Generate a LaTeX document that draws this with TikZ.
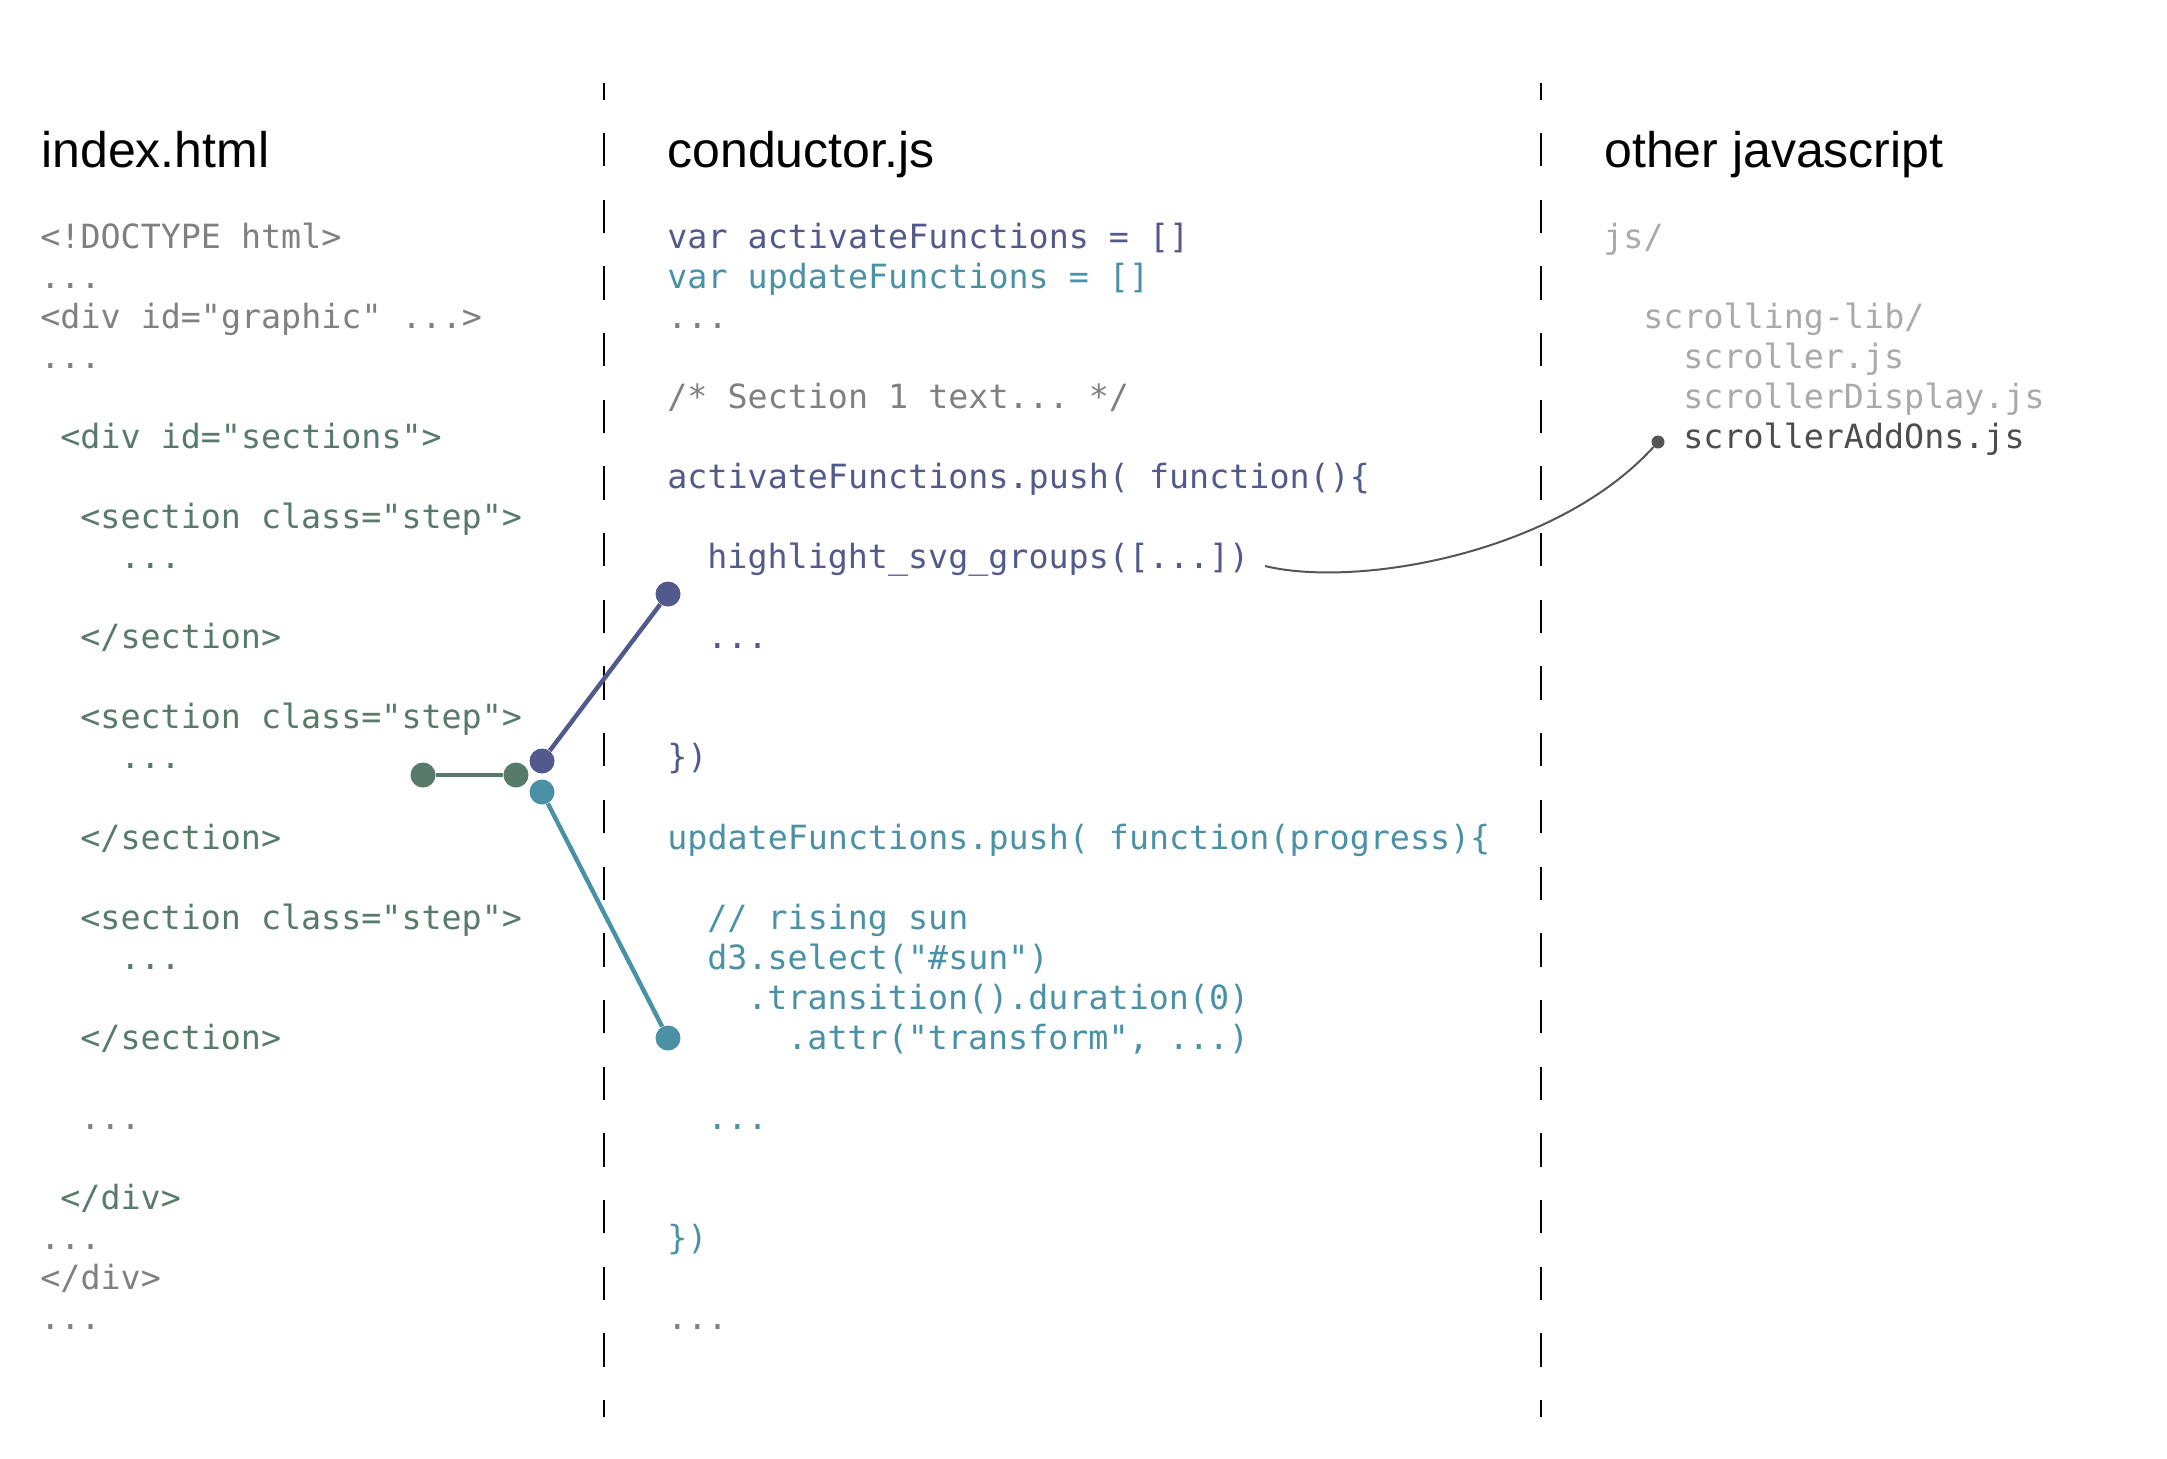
\documentclass[tikz,border=0pt]{standalone}
\usepackage{fontspec}
\setmainfont{Liberation Sans}
\setmonofont{DejaVu Sans Mono}

\definecolor{codegray}{HTML}{808080}
\definecolor{pathgray}{HTML}{AAAAAA}
\definecolor{filegray}{HTML}{4D4D4D}
\definecolor{curvegray}{HTML}{555555}
\definecolor{sectgreen}{HTML}{587A6A}
\definecolor{actpurple}{HTML}{52598C}
\definecolor{updteal}{HTML}{4A91A6}

\tikzset{
  title/.style={anchor=base west, inner sep=0pt, font=\fontsize{25}{30}\selectfont},
  code/.style={anchor=base west, inner sep=0pt, text=#1, font=\ttfamily\fontsize{16.67}{20}\selectfont},
  code/.default=codegray,
  divider/.style={draw=black, line width=1.2pt, dash pattern=on 16.67pt off 16.67pt, dash phase=8.33pt},
  dot/.style={circle, fill=#1, inner sep=0pt, minimum size=12.5pt},
  link/.style={draw=#1, line width=2.2pt},
}

\begin{document}
\begin{tikzpicture}[x=0.5pt, y=-0.5pt]
\useasboundingbox (0,0) rectangle (2167,1458);

% column dividers
\draw[divider] (604,83) -- (604,1417);
\draw[divider] (1541,83) -- (1541,1417);

% titles
\node[title] (tindex) at (41,167) {index.html};
\node[title] (tcond) at (667,167) {conductor.js};
\node[title] (tother) at (1604,167) {other javascript};

% index.html
\node[code] (h0) at (40,248) {<!DOCTYPE html>};
\node[code] (h1) at (40,288.1) {...};
\node[code] (h2) at (40,328.1) {<div id="graphic" ...>};
\node[code] (h3) at (40,368.2) {...};
\node[code=sectgreen] (h5) at (60,448.4) {<div id="sections">};
\node[code=sectgreen] (h7) at (80,528.5) {<section class="step">};
\node[code=sectgreen] (h8) at (120,568.6) {...};
\node[code=sectgreen] (h10) at (80,648.7) {</section>};
\node[code=sectgreen] (h12) at (80,728.8) {<section class="step">};
\node[code=sectgreen] (h13) at (120,768.9) {...};
\node[code=sectgreen] (h15) at (80,849) {</section>};
\node[code=sectgreen] (h17) at (80,929.2) {<section class="step">};
\node[code=sectgreen] (h18) at (120,969.3) {...};
\node[code=sectgreen] (h20) at (80,1049.4) {</section>};
\node[code] (h22) at (80,1129.5) {...};
\node[code=sectgreen] (h24) at (60,1209.7) {</div>};
\node[code] (h25) at (40,1249.8) {...};
\node[code] (h26) at (40,1289.8) {</div>};
\node[code] (h27) at (40,1329.9) {...};

% conductor.js
\node[code=actpurple] (c0) at (667,248) {var activateFunctions = []};
\node[code=updteal] (c1) at (667,288.1) {var updateFunctions = []};
\node[code] (c2) at (667,328.1) {...};
\node[code] (c4) at (667,408.3) {/* Section 1 text... */};
\node[code=actpurple] (c6) at (667,488.4) {activateFunctions.push( function()\{};
\node[code=actpurple] (c8) at (707,568.6) {highlight\_svg\_groups([...])};
\node[code=actpurple] (c10) at (707,648.7) {...};
\node[code=actpurple] (c13) at (667,768.9) {\})};
\node[code=updteal] (c15) at (667,849) {updateFunctions.push( function(progress)\{};
\node[code=updteal] (c17) at (707,929.2) {// rising sun};
\node[code=updteal] (c18) at (707,969.3) {d3.select("\#sun")};
\node[code=updteal] (c19) at (747,1009.3) {.transition().duration(0)};
\node[code=updteal] (c20) at (787,1049.4) {.attr("transform", ...)};
\node[code=updteal] (c22) at (707,1129.5) {...};
\node[code=updteal] (c25) at (667,1249.8) {\})};
\node[code] (c27) at (667,1329.9) {...};

% other javascript
\node[code=pathgray] (o0) at (1603,248) {js/};
\node[code=pathgray] (o2) at (1643,328.1) {scrolling-lib/};
\node[code=pathgray] (o3) at (1683,368.2) {scroller.js};
\node[code=pathgray] (o4) at (1683,408.3) {scrollerDisplay.js};
\node[code=filegray] (o5) at (1683,448.4) {scrollerAddOns.js};

% dots
\node[dot=sectgreen] (gstep) at (423,775) {};
\node[dot=sectgreen] (ghub) at (516,775) {};
\node[dot=actpurple] (pstep) at (542,761) {};
\node[dot=actpurple] (pfun) at (668,594) {};
\node[dot=updteal] (tstep) at (542,792) {};
\node[dot=updteal] (tfun) at (668,1038) {};
\node[circle, fill=curvegray, inner sep=0pt, minimum size=6.5pt] (addons) at (1658,442) {};
\coordinate (hlend) at (1265,566);

% links
\draw[link=sectgreen] (gstep) -- (ghub);
\draw[link=actpurple] (pstep) -- (pfun);
\draw[link=updteal] (tstep) -- (tfun);
\draw[curvegray, line width=1pt] (hlend) .. controls (1355,588) and (1555,555) .. (addons);

\end{tikzpicture}
\end{document}
